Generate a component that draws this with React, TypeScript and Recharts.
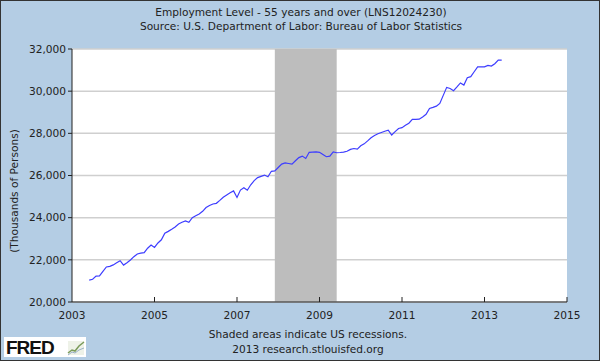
import React from "react";
import {
  CartesianGrid,
  Line,
  LineChart,
  ReferenceArea,
  XAxis,
  YAxis,
} from "recharts";

// monthly, June 2003 .. June 2013 (thousands of persons)
const startYear = 2003;
const startMonth = 6;
const employment = [
  21040, 21080, 21230, 21240, 21450, 21660, 21690,
  21760, 21860, 21960, 21750, 21860, 21990, 22150, 22280, 22320, 22340, 22550, 22700,
  22590, 22800, 22950, 23260, 23350, 23450, 23560, 23700, 23780, 23850, 23780, 24000,
  24090, 24170, 24300, 24480, 24580, 24650, 24680, 24820, 24970, 25080, 25180, 25270,
  24960, 25310, 25420, 25300, 25560, 25760, 25900, 25960, 26020, 25940, 26200, 26220,
  26380, 26540, 26600, 26570, 26540, 26700, 26850, 26920, 26810, 27100, 27110, 27120,
  27100, 27000, 26890, 26920, 27120, 27080, 27090, 27110, 27150, 27240, 27280, 27250,
  27410, 27500, 27640, 27790, 27900, 27980, 28040, 28100, 28150, 27920, 28080, 28230,
  28270, 28380, 28480, 28660, 28660, 28670, 28780, 28900, 29180, 29230, 29290, 29420,
  29800, 30180, 30130, 30020, 30200, 30390, 30290, 30640, 30690, 30920, 31150, 31150,
  31150, 31220, 31190, 31300, 31470, 31470,
];
const xTicks = [2003, 2005, 2007, 2009, 2011, 2013, 2015];
const yTicks = [20000, 22000, 24000, 26000, 28000, 30000, 32000];
// recession Dec 2007 - Jun 2009
const recessionStart = 2007 + 11 / 12;
const recessionEnd = 2009 + 5 / 12;

const data = employment.map((v, i) => ({
  t: startYear + (startMonth - 1 + i) / 12,
  value: v,
}));

const font = "'DejaVu Sans', Verdana, sans-serif";
const fs = 10.6;

function XTick(props: any) {
  const { x, y, payload } = props;
  return (
    <g>
      {payload.value !== 2003 && (
        <line x1={x} x2={x} y1={302} y2={297} stroke="#222" strokeWidth={1} />
      )}
      <text x={x} y={y} dy={9} textAnchor="middle" fontSize={fs} fill="#222" fontFamily={font}>
        {payload.value}
      </text>
    </g>
  );
}

function FredLogo() {
  return (
    <svg width={84} height={24} style={{ position: "absolute", left: 3, top: 334 }}>
      <rect x={0} y={2} width={82} height={20} fill="#fff" />
      <text x={2} y={19} fontSize={19} fontWeight="bold" fontFamily="'Liberation Sans', Arial, sans-serif" fill="#111" letterSpacing={-1}>
        FRED
      </text>
      <rect x={64} y={6} width={16} height={14} fill="#eef2e8" />
      <polyline points="64,18 68,15 71,16 75,11 80,7" fill="none" stroke="#7a9a5a" strokeWidth={1.5} />
      <polyline points="64,20 68,17 71,18 75,15 80,13" fill="none" stroke="#9ab0c8" strokeWidth={1} />
    </svg>
  );
}

export default function App() {
  const text: React.CSSProperties = {
    position: "absolute",
    width: 600,
    left: 0,
    textAlign: "center",
    fontFamily: font,
    fontSize: fs,
    color: "#222",
  };
  return (
    <div
      style={{
        position: "absolute",
        left: 0,
        top: 0,
        width: 600,
        height: 361,
        background: "#b4cde4",
        border: "1px solid #333",
        boxSizing: "border-box",
        overflow: "hidden",
      }}
    >
      <div style={{ position: "absolute", left: -1, top: -1 }}>
        <LineChart
          width={600}
          height={361}
          data={data}
          margin={{ top: 49, right: 33, bottom: 39, left: 0 }}
        >
          <CartesianGrid
            vertical={false}
            stroke="#cfcfcf"
            strokeWidth={1.5}
            fill="#ffffff"
            fillOpacity={1}
          />
          <ReferenceArea
            x1={recessionStart}
            x2={recessionEnd}
            y1={20000}
            y2={32000}
            fill="#bdbdbd"
            fillOpacity={1}
            stroke="none"
          />
          <XAxis
            dataKey="t"
            type="number"
            domain={[2003, 2015]}
            ticks={xTicks}
            interval={0}
            height={20}
            stroke="#222"
            tickLine={false}
            tick={<XTick />}
          />
          <YAxis
            type="number"
            domain={[20000, 32000]}
            ticks={yTicks}
            interval={0}
            width={72}
            stroke="#222"
            tickSize={4}
            tickFormatter={(v: number) => v.toLocaleString("en-US")}
            tick={{ fontSize: fs, fill: "#222", fontFamily: font }}
          />
          <Line
            type="linear"
            dataKey="value"
            stroke="#3d3dff"
            strokeWidth={1.2}
            dot={false}
            isAnimationActive={false}
          />
        </LineChart>
      </div>
      <div style={{ ...text, top: 5 }}>Employment Level - 55 years and over (LNS12024230)</div>
      <div style={{ ...text, top: 19 }}>Source: U.S. Department of Labor: Bureau of Labor Statistics</div>
      <div style={{ ...text, left: 7, top: 327 }}>Shaded areas indicate US recessions.</div>
      <div style={{ ...text, left: 7, top: 342 }}>2013 research.stlouisfed.org</div>
      <div
        style={{
          position: "absolute",
          left: 13,
          top: 190,
          transform: "translate(-50%, -50%) rotate(-90deg)",
          whiteSpace: "nowrap",
          fontFamily: font,
          fontSize: fs,
          color: "#222",
        }}
      >
        (Thousands of Persons)
      </div>
      <FredLogo />
    </div>
  );
}
